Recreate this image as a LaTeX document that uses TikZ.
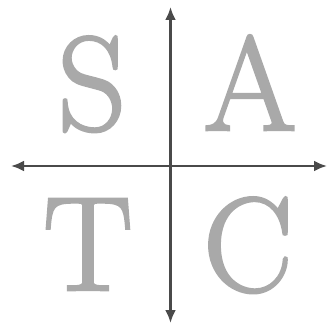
\documentclass[tikz,border=0pt]{standalone}
\usepackage{fontspec}
\newfontfamily\letterfont{Latin Modern Roman}[FakeBold=2]
\usetikzlibrary{arrows.meta}
\definecolor{lettergray}{HTML}{A9A9A9}
\definecolor{axisgray}{HTML}{4A4A4A}
\begin{document}
\begin{tikzpicture}[x=1pt,y=1pt,
  letter/.style={text=lettergray,inner sep=0pt,anchor=base,font=\letterfont\fontsize{134}{134}\selectfont},
  axis/.style={draw=axisgray,line width=2.7pt,{Latex[length=13pt,width=11pt]}-{Latex[length=13pt,width=11pt]}}]
\useasboundingbox (0,0) rectangle (328,327);
\node[letter] (S) at (92,197) {S};
\node[letter] (A) at (250,197) {A};
\node[letter] (T) at (88,37) {T};
\node[letter] (C) at (248,36) {C};
\coordinate (top) at (170.5,320);
\coordinate (bottom) at (170.5,4);
\coordinate (left) at (11,161);
\coordinate (right) at (327,161);
\draw[axis] (left) -- (right);
\draw[axis] (bottom) -- (top);
\end{tikzpicture}
\end{document}
